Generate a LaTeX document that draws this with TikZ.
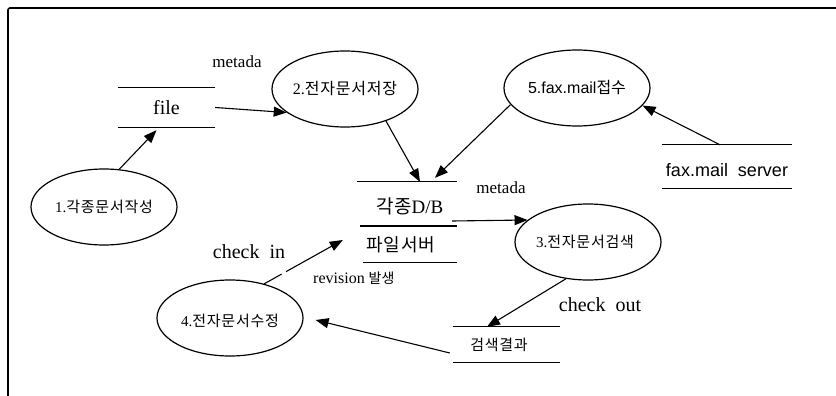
\documentclass[tikz,border=0pt]{standalone}
\usepackage{fontspec}
\setmainfont{Liberation Serif}
\newfontfamily\krf{Noto Sans CJK KR}
\newfontfamily\krs[LetterSpace=5]{Noto Sans CJK KR}
\newfontfamily\sansf{Liberation Sans}
\usetikzlibrary{shapes.geometric,arrows.meta}
\newcommand{\fsz}[1]{\fontsize{#1}{#1}\selectfont}
\begin{document}
\begin{tikzpicture}[x=1pt,y=-1pt,
  proc/.style={ellipse, draw, line width=1.2pt, inner sep=0pt, minimum width=146pt, minimum height=76pt},
  store/.style={rectangle, inner sep=0pt},
  sline/.style={line width=1.3pt},
  flow/.style={-{Triangle[length=13pt,width=10pt]}, line width=1.1pt},
  lbl/.style={inner sep=0pt}]
\useasboundingbox (0,0) rectangle (836,396);
% frame
\draw[line width=1.6pt, rounded corners=2pt] (8,396) -- (8,8) -- (836,8);

% processes
\node[proc] (e1) at (104,207) {};
\node[lbl] (t1) at (e1.center) {\fsz{15}1.{\krs 각종문서작성}};
\node[proc] (e2) at (345,89) {};
\node[lbl] (t2) at (e2.center) {\fsz{16}2.{\krs 전자문서저장}};
\node[proc] (e3) at (588,242) {};
\node[lbl] (t3) at ([xshift=-3pt]e3.center) {\fsz{15}3.{\krs 전자문서검색}};
\node[proc] (e4) at (230,318) {};
\node[lbl] (t4) at ([yshift=-3pt]e4.center) {\fsz{15}4.{\krs 전자문서수정}};
\node[proc] (e5) at (577,88) {};
\node[lbl] (t5) at (e5.center) {\fsz{16}\sansf 5.fax.mail{\krf 접수}};

% stores
\node[store, minimum width=97pt, minimum height=39pt] (file) at (166.5,107.5) {\fsz{20}file};
\draw[sline] (file.north west) -- (file.north east);
\draw[sline] (file.south west) -- (file.south east);

\node[store, minimum width=100pt, minimum height=80pt] (db) at (407,222) {};
\node[lbl] (dbt1) at (410,206) {\fsz{19}{\krf 각종}D/B};
\node[lbl] (dbt2) at (401,245) {\fsz{18}\krs 파일서버};
\draw[sline] (db.north west) -- (db.north east);
\draw[sline] ([xshift=3pt,yshift=-4pt]db.west) -- ([yshift=-4pt]db.east);
\draw[sline] ([xshift=6pt]db.south west) -- (db.south east);

\node[store, minimum width=130pt, minimum height=43pt] (srv) at (727,166.5) {};
\node[lbl] (srvt) at (727,170) {\fsz{18}\sansf fax.mail\ \ server};
\draw[sline] (srv.north west) -- (srv.north east);
\draw[sline] (srv.south west) -- (srv.south east);

\node[store, minimum width=107pt, minimum height=35pt] (res) at (506.5,344.5) {};
\node[lbl] (rest) at (499,345) {\fsz{15}\krs 검색결과};
\draw[sline] (res.north west) -- (res.north east);
\draw[sline] (res.south west) -- (res.south east);

% labels
\node[lbl] (m1) at (237,62) {\fsz{17}metada};
\node[lbl] (m2) at (501,188) {\fsz{17}metada};
\node[lbl] (ci) at (249,252) {\fsz{20}check\ \ in};
\node[lbl] (co) at (600,305) {\fsz{20}check\ \ out};
\node[lbl, anchor=west] (rv) at (313,278) {\fsz{16}revision {\fsz{14}\krf 발생}};

% flows
\draw[flow] (e1.68) -- ([xshift=-10pt,yshift=-3pt]file.south);
\draw[flow] (file.east) -- (e2.202);
\draw[flow] (e2.-38) -- ([xshift=13pt]db.north);
\draw[flow] (e5.194) -- ([xshift=28pt,yshift=4pt]db.north);
\draw[flow] ([xshift=-7pt]srv.north) -- (e5.-15);
\draw[flow] ([xshift=-5pt,yshift=1pt]db.east) -- (e3.160);
\draw[flow] (e3.-121) -- ([xshift=-19.5pt]res.north);
\draw[flow] ([xshift=-3pt,yshift=-8.5pt]res.west) -- ([xshift=12pt,yshift=-2pt]e4.east);
\draw[flow, dash pattern=on 20pt off 5pt on 200pt off 0pt] (e4.45) -- ([xshift=-14pt,yshift=-18pt]db.west);
\end{tikzpicture}
\end{document}
